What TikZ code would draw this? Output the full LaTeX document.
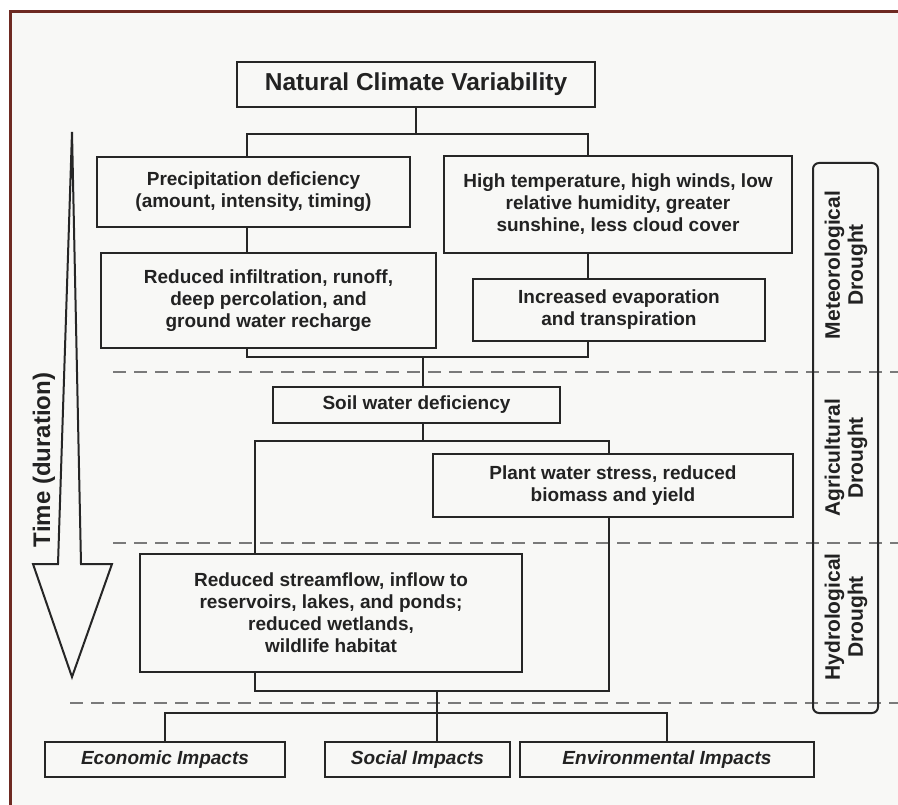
\documentclass[tikz,border=0pt]{standalone}
\usepackage{fontspec}
\setmainfont{Liberation Sans}
\definecolor{bgc}{HTML}{F8F8F6}
\definecolor{framec}{HTML}{6E2A22}
\definecolor{linec}{HTML}{262626}
\definecolor{textc}{HTML}{222222}
\definecolor{dashc}{HTML}{7A7A7A}
\tikzset{
  box/.style={draw=linec, line width=2.2pt, inner sep=0pt, align=center, text=textc,
    font=\bfseries\fontsize{19}{22}\selectfont},
  impact/.style={box, font=\bfseries\itshape\fontsize{19}{22}\selectfont},
  conn/.style={draw=linec, line width=2pt},
  sepline/.style={draw=dashc, line width=2pt, dash pattern=on 13pt off 8pt},
  sidelabel/.style={rotate=90, align=center, text=textc, inner sep=0pt,
    font=\bfseries\fontsize{21}{23}\selectfont},
}
\begin{document}
\begin{tikzpicture}[x=1pt,y=-1pt]
\useasboundingbox (0,0) rectangle (898,805);
\fill[white] (0,0) rectangle (898,805);
\fill[bgc] (10,12) rectangle (910,820);
\draw[framec, line width=3pt] (10,12) rectangle (910,820);

% separators
\coordinate (d1a) at (113,372); \coordinate (d1b) at (898,372);
\coordinate (d2a) at (113,543); \coordinate (d2b) at (898,543);
\coordinate (d3a) at (70,703);  \coordinate (d3b) at (898,703);
\draw[sepline] (d1a) -- (d1b);
\draw[sepline] (d2a) -- (d2b);
\draw[sepline] (d3a) -- (d3b);

% nodes
\node[box, minimum width=358pt, minimum height=45pt, font=\bfseries\fontsize{24.5}{28}\selectfont] (ncv) at (416,84.5) {Natural Climate Variability};
\node[box, minimum width=313pt, minimum height=70pt] (precip) at (253.5,192) {Precipitation deficiency\\(amount, intensity, timing)};
\node[box, minimum width=348pt, minimum height=97pt] (hightemp) at (618,204.5) {High temperature, high winds, low\\relative humidity, greater\\sunshine, less cloud cover};
\node[box, minimum width=335pt, minimum height=95pt] (reduinf) at (268.5,300.5) {Reduced infiltration, runoff,\\deep percolation, and\\ground water recharge};
\node[box, minimum width=292pt, minimum height=62pt] (evap) at (619,310) {Increased evaporation\\and transpiration};
\node[box, minimum width=287pt, minimum height=36pt] (soil) at (416.5,405) {Soil water deficiency};
\node[box, minimum width=360pt, minimum height=63pt] (plant) at (613,485.5) {Plant water stress, reduced\\biomass and yield};
\node[box, minimum width=382pt, minimum height=118pt] (stream) at (331,613) {Reduced streamflow, inflow to\\reservoirs, lakes, and ponds;\\reduced wetlands,\\wildlife habitat};
\node[impact, minimum width=240pt, minimum height=35pt] (econ) at (165,759.5) {Economic Impacts};
\node[impact, minimum width=185pt, minimum height=35pt] (social) at (417.5,759.5) {Social Impacts};
\node[impact, minimum width=294pt, minimum height=35pt] (env) at (667,759.5) {Environmental Impacts};

% drought classes
\node[draw=linec, line width=2pt, rounded corners=6pt, minimum width=65pt, minimum height=550pt, inner sep=0pt] (classes) at (845.5,438) {};
\node[sidelabel] (meteo) at (846,265) {Meteorological\\Drought};
\node[sidelabel] (agri) at (846,458) {Agricultural\\Drought};
\node[sidelabel] (hydro) at (846,617) {Hydrological\\Drought};

% time arrow
\draw[linec, line width=2pt, line join=miter, fill=bgc] (72,132) -- (81,564) -- (112,564) -- (72,677) -- (33,564) -- (58,564) -- cycle;
\node[rotate=90, text=textc, font=\bfseries\fontsize{24}{26}\selectfont, inner sep=0pt] (time) at (44,460) {Time (duration)};

% connectors
\coordinate (busA) at (247,134); \coordinate (busB) at (588,134);
\draw[conn] (ncv.south) -- (ncv.south |- busA);
\draw[conn] (busA |- precip.north) -- (busA) -- (busB) -- (busB |- hightemp.north);
\draw[conn] (busA |- precip.south) -- (busA |- reduinf.north);
\draw[conn] (busB |- hightemp.south) -- (busB |- evap.north);
\coordinate (j1L) at (247,357); \coordinate (j1R) at (588,357); \coordinate (j1M) at (423,357);
\draw[conn] (j1L |- reduinf.south) -- (j1L) -- (j1R) -- (j1R |- evap.south);
\draw[conn] (j1M) -- (j1M |- soil.north);
\coordinate (j2L) at (255,441); \coordinate (j2R) at (609,441); \coordinate (j2M) at (423,441);
\draw[conn] (j2M |- soil.south) -- (j2M);
\draw[conn] (j2L |- stream.north) -- (j2L) -- (j2R) -- (j2R |- plant.north);
\coordinate (j3L) at (255,691); \coordinate (j3R) at (609,691); \coordinate (j3M) at (437,691);
\draw[conn] (j3L |- stream.south) -- (j3L) -- (j3R) -- (j3R |- plant.south);
\draw[conn] (j3M) -- (j3M |- social.north);
\coordinate (j4L) at (165,713); \coordinate (j4R) at (667,713);
\draw[conn] (j4L |- econ.north) -- (j4L) -- (j4R) -- (j4R |- env.north);
\end{tikzpicture}
\end{document}
